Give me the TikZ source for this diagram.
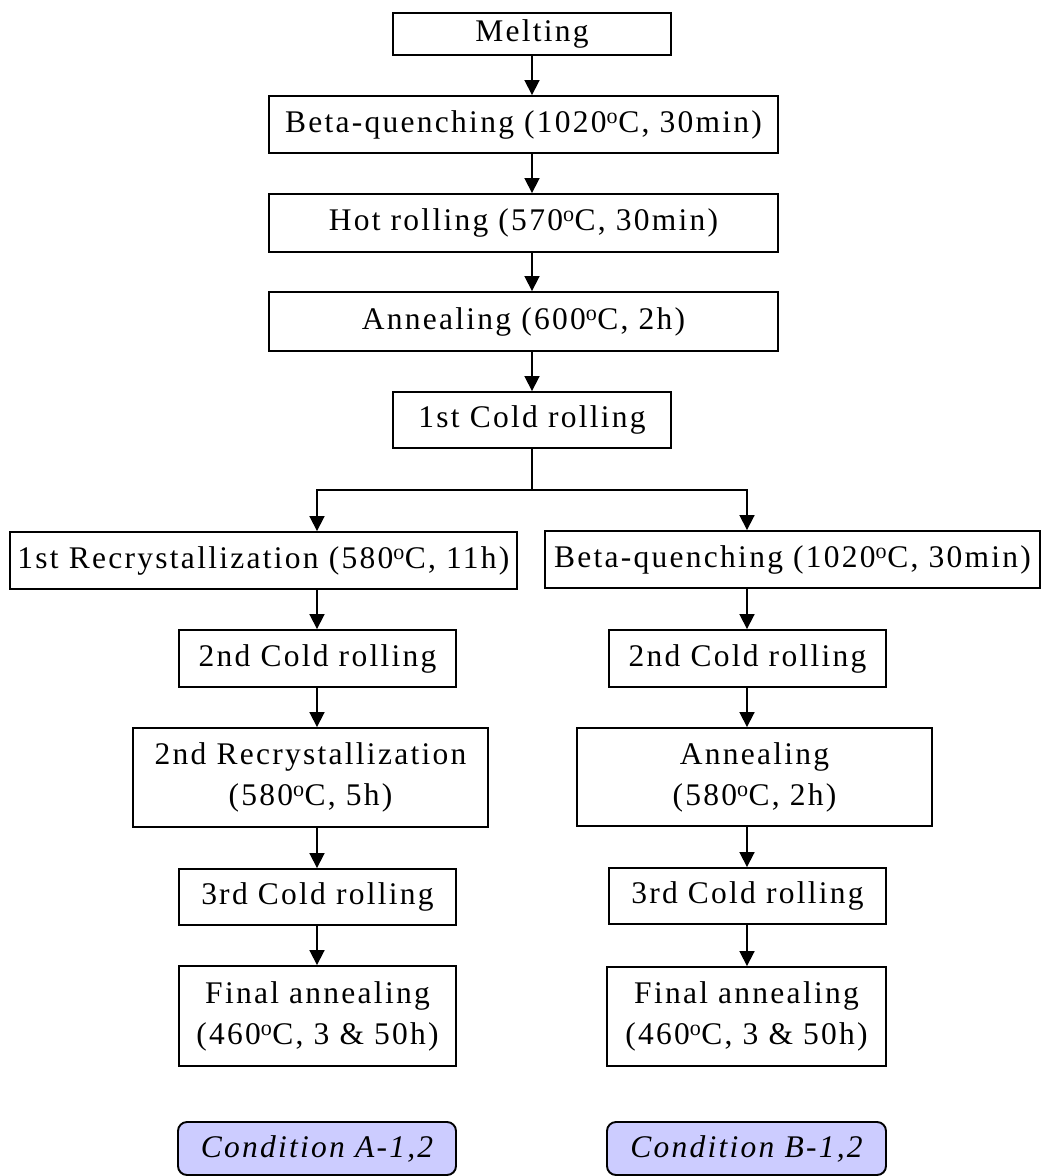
\documentclass[tikz,border=0pt]{standalone}
\usepackage{fontspec}
\setmainfont{Liberation Serif}[LetterSpace=7.2]
\usetikzlibrary{arrows.meta}
\definecolor{condfill}{HTML}{CCCCFF}
\begin{document}
\begin{tikzpicture}[x=1pt,y=-1pt,
  font=\fontsize{31.5}{41}\selectfont,
  box/.style={draw, line width=1.9pt, inner sep=0pt, align=center},
  sz/.style 2 args={minimum width=#1pt, minimum height=#2pt},
  cond/.style={box, fill=condfill, rounded corners=9pt, font=\fontsize{31.5}{41}\selectfont\itshape},
  arr/.style={line width=1.8pt, -{Triangle[length=15pt,width=15pt]}},
  link/.style={line width=1.8pt}]
\clip (0,0) rectangle (1042,1176);
\fill[white] (0,0) rectangle (1042,1176);
\coordinate (cM) at (532,0);
\coordinate (cL) at (317,0);
\coordinate (cR) at (747,0);
\coordinate (br) at (532,490);

\node[box, sz={278}{42}] (melt) at (532,34) {Melting};
\node[box, sz={509}{57}] (beta) at (523.5,124.5) {Beta-quenching (1020\textsuperscript{o}C, 30min)};
\node[box, sz={509}{58}] (hot) at (523.5,223) {Hot rolling (570\textsuperscript{o}C, 30min)};
\node[box, sz={509}{59}] (ann) at (523.5,321.5) {Annealing (600\textsuperscript{o}C, 2h)};
\node[box, sz={278}{56}] (cold1) at (532,420) {1st Cold rolling};

\node[box, sz={507}{57}] (rec1) at (263.5,560.5) {1st Recrystallization (580\textsuperscript{o}C, 11h)};
\node[box, sz={495}{57}] (betaR) at (792.5,559.5) {Beta-quenching (1020\textsuperscript{o}C, 30min)};
\node[box, sz={277}{57}] (cold2L) at (317.5,658.5) {2nd Cold rolling};
\node[box, sz={277}{57}] (cold2R) at (747.5,658.5) {2nd Cold rolling};
\node[box, sz={355}{99}] (rec2) at (310.5,777.5) {2nd Recrystallization\\(580\textsuperscript{o}C, 5h)};
\node[box, sz={355}{98}] (annR) at (754.5,777) {Annealing\\(580\textsuperscript{o}C, 2h)};
\node[box, sz={277}{56}] (cold3L) at (317.5,897) {3rd Cold rolling};
\node[box, sz={277}{56}] (cold3R) at (747.5,896) {3rd Cold rolling};
\node[box, sz={277}{100}] (finL) at (317.5,1016) {Final annealing\\(460\textsuperscript{o}C, 3 \& 50h)};
\node[box, sz={279}{99}] (finR) at (746.5,1016.5) {Final annealing\\(460\textsuperscript{o}C, 3 \& 50h)};
\node[cond, sz={278}{53}] (condA) at (317,1148.5) {Condition A-1,2};
\node[cond, sz={279}{53}] (condB) at (746.5,1148.5) {Condition B-1,2};

\draw[arr] (melt.south -| cM) -- (beta.north -| cM);
\draw[arr] (beta.south -| cM) -- (hot.north -| cM);
\draw[arr] (hot.south -| cM) -- (ann.north -| cM);
\draw[arr] (ann.south -| cM) -- (cold1.north -| cM);
\draw[link] (cold1.south -| cM) -- (br);
\draw[arr] (br) -| (rec1.north -| cL);
\draw[arr] (br) -| (betaR.north -| cR);

\draw[arr] (rec1.south -| cL) -- (cold2L.north -| cL);
\draw[arr] (cold2L.south -| cL) -- (rec2.north -| cL);
\draw[arr] (rec2.south -| cL) -- (cold3L.north -| cL);
\draw[arr] (cold3L.south -| cL) -- (finL.north -| cL);

\draw[arr] (betaR.south -| cR) -- (cold2R.north -| cR);
\draw[arr] (cold2R.south -| cR) -- (annR.north -| cR);
\draw[arr] (annR.south -| cR) -- (cold3R.north -| cR);
\draw[arr] (cold3R.south -| cR) -- (finR.north -| cR);
\end{tikzpicture}
\end{document}
